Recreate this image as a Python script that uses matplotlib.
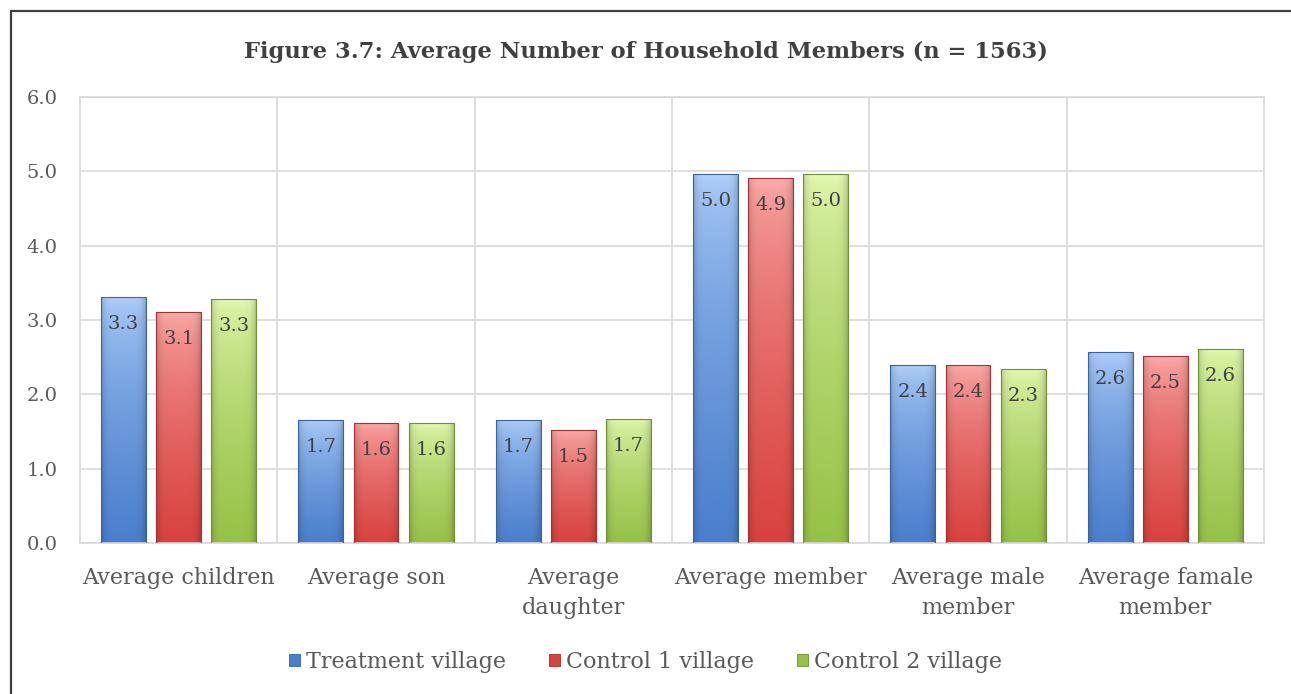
#!/usr/bin/env python3
"""Figure 3.7 - average number of household members, Excel-style gradient bars."""
import numpy as np
import matplotlib as mpl
mpl.use('Agg')
import matplotlib.pyplot as plt
from matplotlib.patches import Rectangle
from matplotlib.colors import to_rgb

mpl.rcParams.update({
    'font.family': ['DejaVu Serif'], 'font.size': 15,
    'text.color': '#595959', 'xtick.color': '#595959', 'ytick.color': '#595959',
})

categories = ['Average children', 'Average son', 'Average\ndaughter', 'Average member',
              'Average male\nmember', 'Average famale\nmember']
series = ['Treatment village', 'Control 1 village', 'Control 2 village']
treatment = [3.31, 1.66, 1.66, 4.96, 2.39, 2.57]
control1 = [3.11, 1.62, 1.52, 4.91, 2.40, 2.51]
control2 = [3.28, 1.62, 1.67, 4.96, 2.34, 2.61]
yticks = [0.0, 1.0, 2.0, 3.0, 4.0, 5.0, 6.0]

# (top colour, bottom colour, edge colour) per series
PAL = [('#b4d2fb', '#4a7fcd', '#3a64a0'),
       ('#fbb0ae', '#d8423f', '#a8302e'),
       ('#e6fab4', '#96c248', '#6f8f35')]

fig = plt.figure(figsize=(12.91, 6.94), dpi=100)
ax = fig.add_axes([80/1291, 1-543/694, (1264-80)/1291, (543-97)/694])

x = np.arange(len(categories))
w, step = 0.228, 0.279

def gradient_bar(ax, x0, h, top, bot, edge):
    rect = Rectangle((x0, 0), w, h, facecolor='none', edgecolor=edge, lw=0.8, zorder=3)
    ax.add_patch(rect)
    n, m = 200, 40
    t = np.linspace(0, 1, n)[:, None]          # 0 = top
    u = np.linspace(-1, 1, m)[None, :]
    c_top, c_bot = np.array(to_rgb(top)), np.array(to_rgb(bot))
    tt = t ** 0.6
    img = c_top[None, None, :] * (1 - tt[..., None]) + c_bot[None, None, :] * tt[..., None]
    shade = 1 - 0.18 * np.abs(u) ** 6
    img = np.clip(img * shade[..., None], 0, 1)
    im = ax.imshow(img, extent=(x0, x0 + w, 0, h), aspect='auto', interpolation='bilinear', zorder=2)
    im.set_clip_path(rect)

for i, vals in enumerate([treatment, control1, control2]):
    top, bot, edge = PAL[i]
    for xi, v in zip(x, vals):
        x0 = xi + (i - 1) * step - w / 2
        gradient_bar(ax, x0, v, top, bot, edge)
        ax.annotate(f'{v:.1f}', (x0 + w / 2, v), xytext=(0, -13), textcoords='offset points',
                    ha='center', va='top', fontsize=14, color='#404040', zorder=4)

ax.set_xlim(-0.5, len(categories) - 0.5)
ax.set_ylim(0, 6)
ax.set_yticks(yticks)
ax.set_yticklabels([f'{v:.1f}' for v in yticks], fontsize=14)
ax.set_xticks(x)
ax.set_xticklabels(categories, linespacing=1.5, fontsize=16)
ax.set_xticks(np.arange(0.5, len(categories) - 0.5), minor=True)
ax.tick_params(axis='both', which='both', length=0)
ax.tick_params(axis='y', pad=16)
ax.tick_params(axis='x', pad=17)
ax.grid(axis='y', color='#d9d9d9', lw=1.2, zorder=0)
ax.grid(axis='x', which='minor', color='#d9d9d9', lw=1.2, zorder=0)
ax.set_axisbelow(True)
for s in ax.spines.values():
    s.set_color('#d9d9d9'); s.set_linewidth(1.2)

fig.text(0.5, 1 - 52/694, 'Figure 3.7: Average Number of Household Members (n = 1563)',
         ha='center', va='center', fontsize=16.3, fontweight='bold', color='#404040')

handles = [Rectangle((0, 0), 1, 1, facecolor=PAL[i][1], edgecolor=PAL[i][2], lw=0.6) for i in range(3)]
fig.legend(handles, series, loc='center', bbox_to_anchor=(0.5, 1 - 662/694), ncol=3, frameon=False,
           handlelength=0.5, handleheight=0.5, handletextpad=0.3, columnspacing=1.9, fontsize=16)

# outer chart border (cropped on right and bottom)
fig.add_artist(Rectangle((11/1291, -0.2), 1.5, 1.2 - 11/694, transform=fig.transFigure,
                         facecolor='none', edgecolor='#404040', lw=1.6))

fig.savefig('out.png', dpi=100)
